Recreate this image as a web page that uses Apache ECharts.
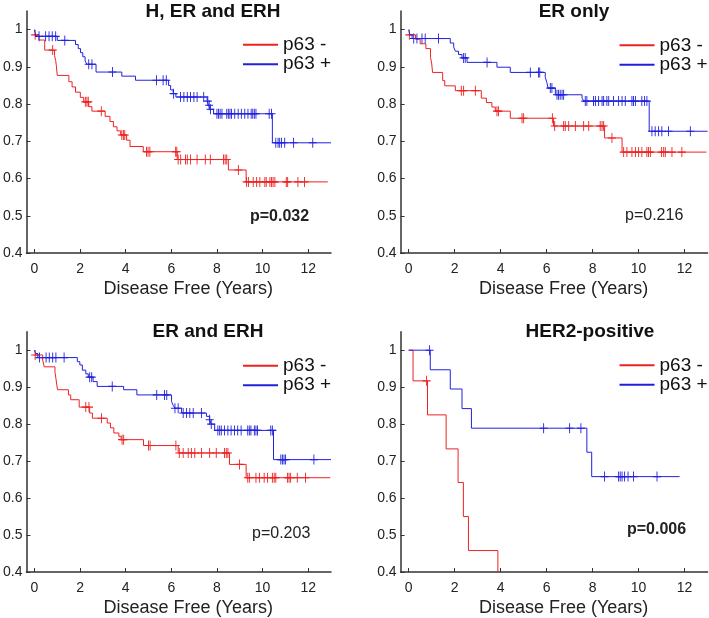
<!DOCTYPE html>
<html><head><meta charset="utf-8">
<script src="https://cdn.jsdelivr.net/npm/echarts@6/dist/echarts.min.js"></script>
<style>html,body{margin:0;padding:0;background:#fff}#c{width:709px;height:618px}</style>
</head><body><div id="c"></div>
<script>
// ---------------- DATA ----------------
const panelTitles = ['H, ER and ERH', 'ER only', 'ER and ERH', 'HER2-positive'];
const pValues = ['p=0.032', 'p=0.216', 'p=0.203', 'p=0.006'];
const pBold = [true, false, false, true];
const groupNames = ['p63 -', 'p63 +'];
const xTicks = [0, 2, 4, 6, 8, 10, 12];
const yTicks = [0.4, 0.5, 0.6, 0.7, 0.8, 0.9, 1];
const xLabel = 'Disease Free (Years)';

// Kaplan-Meier steps: [time (years), survival after that time]
const p1Neg = [[0,0.986],[0.2,0.972],[0.45,0.945],[0.88,0.931],[0.93,0.917],[0.96,0.903],[1.0,0.877],[1.51,0.86],[1.65,0.846],[1.8,0.832],[2.01,0.818],[2.16,0.806],[2.38,0.793],[2.52,0.781],[3.1,0.767],[3.31,0.753],[3.46,0.739],[3.62,0.728],[3.78,0.717],[4.04,0.703],[4.19,0.686],[4.77,0.672],[6.26,0.651],[8.5,0.623],[9.28,0.591],[12.86,0.591]];
const p1NegCens = [0.03,0.8,2.23,2.3,2.36,2.93,3.83,3.9,3.96,4.91,4.98,5.06,6.19,6.24,6.3,6.41,6.62,6.7,6.84,7.13,7.49,7.71,8.29,8.36,8.43,8.94,9.3,9.38,9.59,9.74,9.88,10.1,10.16,10.32,10.39,10.46,10.54,11.04,11.1,11.55,11.84];
const p1Pos = [[0,1.0],[0.06,0.982],[1.0,0.971],[1.8,0.96],[1.92,0.949],[2.02,0.938],[2.12,0.927],[2.22,0.916],[2.3,0.907],[2.7,0.886],[3.83,0.875],[4.43,0.864],[5.88,0.85],[5.97,0.838],[6.08,0.828],[6.2,0.819],[7.57,0.808],[7.63,0.797],[7.7,0.786],[7.85,0.774],[10.43,0.696],[13.0,0.696]];
const p1PosCens = [0.2,0.49,0.64,0.78,0.93,1.33,2.38,2.52,3.42,5.35,5.64,5.78,6.1,6.4,6.55,6.7,6.84,6.99,7.13,7.42,7.6,7.66,7.72,8.0,8.07,8.14,8.22,8.43,8.5,8.57,8.64,8.78,8.93,9.07,9.22,9.36,9.5,9.57,9.64,9.71,10.29,10.39,10.58,10.68,10.75,10.83,10.97,11.36,12.2];

const p2Neg = [[0,0.986],[0.3,0.974],[0.5,0.962],[0.75,0.949],[0.95,0.925],[1.0,0.91],[1.04,0.885],[1.48,0.863],[1.57,0.849],[2.03,0.836],[3.16,0.816],[3.38,0.804],[3.62,0.792],[3.77,0.781],[4.42,0.762],[6.3,0.741],[8.52,0.709],[9.28,0.671],[12.95,0.671]];
const p2NegCens = [0.03,2.29,2.39,2.9,3.84,3.91,4.93,5.0,6.25,6.35,6.74,6.81,6.96,7.25,7.61,7.83,8.33,8.41,8.48,8.84,9.35,9.49,9.71,9.86,10.0,10.14,10.36,10.43,10.51,11.0,11.09,11.16,11.45,11.88];
const p2Pos = [[0,1.0],[0.05,0.986],[0.15,0.976],[1.81,0.964],[1.96,0.953],[2.03,0.942],[2.17,0.933],[2.32,0.924],[2.54,0.912],[3.84,0.899],[4.42,0.885],[5.94,0.872],[6.01,0.858],[6.06,0.843],[6.38,0.825],[7.54,0.816],[7.62,0.808],[10.46,0.727],[13.0,0.727]];
const p2PosCens = [0.22,0.36,0.58,0.72,1.3,2.39,2.46,3.41,5.29,5.65,5.7,6.16,6.23,6.45,6.52,6.59,6.67,6.74,7.68,7.75,8.04,8.12,8.26,8.41,8.48,8.62,8.7,8.91,9.13,9.28,9.42,9.71,9.78,9.86,10.14,10.26,10.36,10.58,10.72,10.87,11.01,11.3,12.25];

const p3Neg = [[0,0.987],[0.36,0.973],[0.43,0.955],[0.9,0.94],[0.94,0.924],[1.01,0.893],[1.49,0.879],[1.59,0.866],[1.96,0.846],[2.42,0.83],[2.54,0.816],[3.19,0.803],[3.33,0.79],[3.48,0.776],[3.7,0.767],[3.8,0.758],[4.78,0.742],[6.3,0.722],[8.55,0.691],[9.28,0.655],[12.97,0.655]];
const p3NegCens = [0.03,2.25,2.39,2.94,3.84,3.91,5.0,5.07,6.2,6.35,6.52,6.74,6.88,7.03,7.32,7.68,7.97,8.33,8.41,8.48,8.99,9.35,9.42,9.71,9.86,10.07,10.22,10.43,10.51,10.58,11.09,11.16,11.23,11.52,11.88];
const p3Pos = [[0,1.0],[0.05,0.991],[0.15,0.98],[1.88,0.969],[1.99,0.96],[2.1,0.946],[2.25,0.936],[2.36,0.927],[2.57,0.915],[2.75,0.902],[3.91,0.893],[4.49,0.879],[6.01,0.861],[6.09,0.85],[6.16,0.843],[6.45,0.83],[7.54,0.821],[7.68,0.812],[7.75,0.8],[7.9,0.783],[10.48,0.704],[13.0,0.704]];
const p3PosCens = [0.22,0.51,0.65,0.8,0.94,1.3,2.42,2.51,3.41,5.36,5.7,5.8,6.16,6.3,6.52,6.67,6.81,6.96,7.32,7.68,7.75,8.04,8.12,8.19,8.33,8.48,8.62,8.77,8.91,9.06,9.35,9.42,9.49,9.64,9.71,9.78,10.36,10.43,10.8,10.87,10.94,11.01,12.25];

const p4Neg = [[0,1.0],[0.19,0.917],[0.82,0.825],[1.63,0.733],[2.15,0.642],[2.38,0.55],[2.6,0.458],[3.88,0.367]];
const p4NegCens = [0.78];
const p4Pos = [[0,1.0],[0.94,0.947],[1.81,0.895],[2.32,0.842],[2.73,0.789],[7.75,0.724],[7.96,0.658],[11.78,0.658]];
const p4PosCens = [0.91,5.87,7.0,7.49,8.52,9.13,9.2,9.28,9.39,9.54,9.78,10.8];

// ---------------- LAYOUT / STYLE ----------------
const FONT = '"Liberation Sans", Arial, Helvetica, sans-serif';
const colors = ['#ee2222', '#2222dd'];
const gridPos = [[24, 11], [400.6, 11], [24, 331.7], [400.6, 331.7]];
const GW = 307, GH = 242;
const titlePos = [[213, 12], [574, 12], [208, 332], [590, 332]];
const pPos = [[250, 217], [625, 216], [252, 534], [627, 530]];
const legendPos = [[243, 44.5], [619.5, 45], [243, 365.5], [619.5, 365]];

const steps = [[p1Neg, p1Pos], [p2Neg, p2Pos], [p3Neg, p3Pos], [p4Neg, p4Pos]];
const cens = [[p1NegCens, p1PosCens], [p2NegCens, p2PosCens], [p3NegCens, p3PosCens], [p4NegCens, p4PosCens]];

function survAt(st, t) {
  let v = st[0][1];
  for (const p of st) { if (p[0] <= t) v = p[1]; else break; }
  return v;
}
const plusPath = 'path://M0,5L10,5M5,0L5,10';
const axisColor = '#333';

const grid = [], xAxis = [], yAxis = [], series = [], legend = [], graphic = [];
for (let i = 0; i < 4; i++) {
  grid.push({ left: gridPos[i][0], top: gridPos[i][1], width: GW, height: GH, containLabel: false });
  xAxis.push({
    type: 'value', gridIndex: i, min: -0.35, max: 13,
    axisLine: { show: true, onZero: false, lineStyle: { color: axisColor, width: 1.5 } },
    axisTick: { show: true, inside: true, length: 4, customValues: xTicks, lineStyle: { color: axisColor, width: 1 } },
    axisLabel: { customValues: xTicks, fontSize: 14, color: '#222', margin: 9, fontFamily: FONT },
    splitLine: { show: false },
    name: xLabel, nameLocation: 'middle', nameGap: 27,
    nameTextStyle: { fontSize: 18, color: '#222', fontFamily: FONT, padding: [0, 0, 0, 19] }
  });
  yAxis.push({
    type: 'value', gridIndex: i, min: 0.4, max: 1.05,
    axisLine: { show: true, onZero: false, lineStyle: { color: axisColor, width: 1.5 } },
    axisTick: { show: true, inside: true, length: 4, customValues: yTicks, lineStyle: { color: axisColor, width: 1 } },
    axisLabel: { customValues: yTicks, fontSize: 14, color: '#222', margin: 4, fontFamily: FONT,
      formatter: v => (Math.abs(v - 1) < 1e-9 ? '1' : v.toFixed(1)) },
    splitLine: { show: false }
  });
  for (let g = 0; g < 2; g++) {
    const st = steps[i][g];
    series.push({
      type: 'line', name: groupNames[g], xAxisIndex: i, yAxisIndex: i,
      data: st, step: 'end', symbol: 'none', showSymbol: false, clip: true,
      lineStyle: { color: colors[g], width: 1 }, itemStyle: { color: colors[g] },
      animation: false, silent: true, z: 2 + g
    });
    series.push({
      type: 'scatter', name: groupNames[g] + ' censored', xAxisIndex: i, yAxisIndex: i,
      data: cens[i][g].map(t => [t, survAt(st, t)]),
      symbol: plusPath, symbolSize: [8, 10],
      itemStyle: { color: 'rgba(0,0,0,0)', borderColor: colors[g], borderWidth: 1, opacity: 1 },
      animation: false, silent: true, z: 2 + g
    });
  }
  legend.push({
    data: groupNames, orient: 'vertical', left: legendPos[i][0], top: legendPos[i][1] - 9.2,
    padding: 0, itemGap: 0.4, itemWidth: 35, itemHeight: 2, icon: 'rect', selectedMode: false,
    textStyle: { fontSize: 19, color: '#111', fontFamily: FONT, lineHeight: 18 }
  });
  graphic.push({
    type: 'text', x: titlePos[i][0], y: titlePos[i][1], silent: true,
    style: { text: panelTitles[i], fill: '#111', font: 'bold 19px ' + FONT,
      textAlign: 'center', textVerticalAlign: 'middle', align: 'center', verticalAlign: 'middle' }
  });
  graphic.push({
    type: 'text', x: pPos[i][0], y: pPos[i][1], silent: true,
    style: { text: pValues[i], fill: '#222', font: (pBold[i] ? 'bold ' : '') + '16px ' + FONT,
      textAlign: 'left', textVerticalAlign: 'middle', align: 'left', verticalAlign: 'middle' }
  });
}

const chart = echarts.init(document.getElementById('c'), null, { renderer: 'canvas' });
chart.setOption({ animation: false, backgroundColor: '#fff', grid, xAxis, yAxis, series, legend, graphic });
</script>
</body></html>
